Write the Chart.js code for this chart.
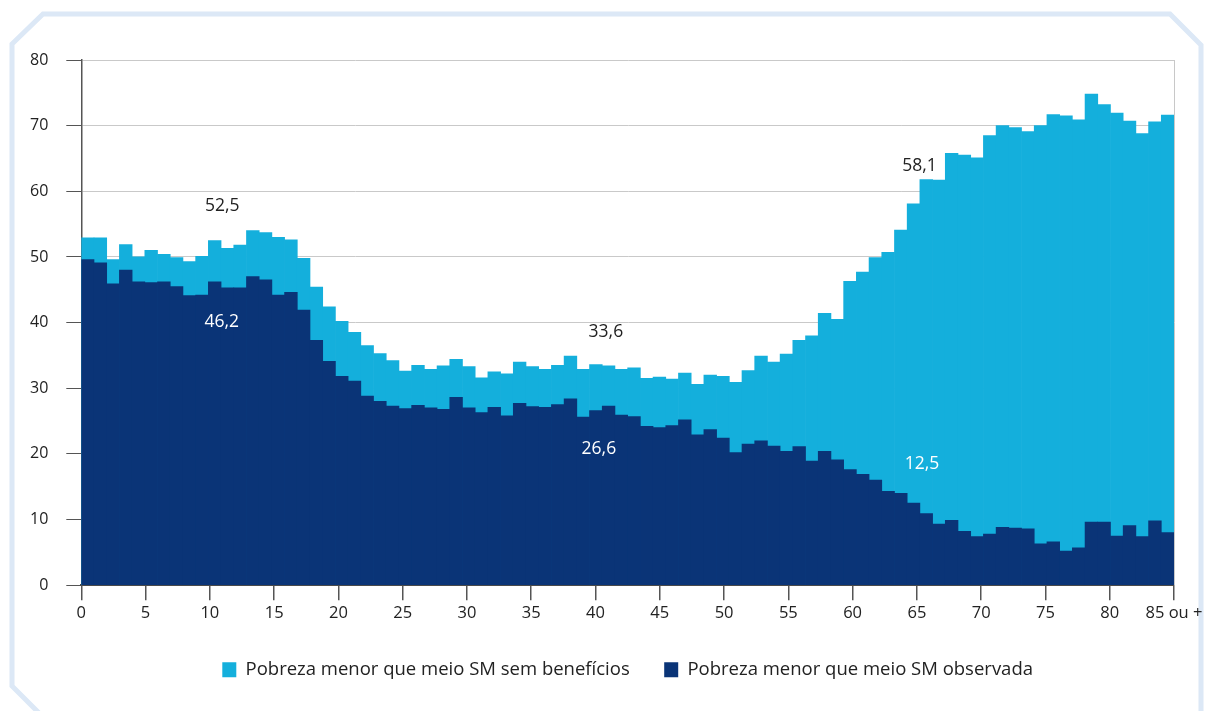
<!DOCTYPE html>
<html>
<head>
<meta charset="utf-8">
<script src="https://cdn.jsdelivr.net/npm/chart.js@4/dist/chart.umd.min.js"></script>
<style>
  html, body { margin: 0; padding: 0; background: #ffffff; }
  #wrap { position: relative; width: 1211px; height: 711px; }
</style>
</head>
<body>
<div id="wrap"><canvas id="c" width="1211" height="711"></canvas></div>
<script>
// ---- data ----
const ages = ['0','1','2','3','4','5','6','7','8','9','10','11','12','13','14','15','16','17','18','19','20','21','22','23','24','25','26','27','28','29','30','31','32','33','34','35','36','37','38','39','40','41','42','43','44','45','46','47','48','49','50','51','52','53','54','55','56','57','58','59','60','61','62','63','64','65','66','67','68','69','70','71','72','73','74','75','76','77','78','79','80','81','82','83','84','85 ou +'];

const semBeneficios = [
  52.9, 52.9, 49.6, 51.9, 50.0, 51.0, 50.4, 49.9, 49.3, 50.1,
  52.5, 51.3, 51.8, 54.0, 53.7, 53.0, 52.6, 49.8, 45.4, 42.4,
  40.2, 38.5, 36.5, 35.3, 34.2, 32.6, 33.5, 32.9, 33.4, 34.4,
  33.3, 31.6, 32.5, 32.2, 34.0, 33.3, 32.9, 33.5, 34.9, 32.9,
  33.6, 33.4, 32.9, 33.1, 31.5, 31.7, 31.4, 32.3, 30.6, 32.0,
  31.8, 30.9, 32.7, 34.9, 34.0, 35.2, 37.3, 38.0, 41.4, 40.5,
  46.3, 47.7, 49.9, 50.7, 54.1, 58.1, 61.8, 61.7, 65.8, 65.5,
  65.1, 68.5, 70.0, 69.7, 69.1, 70.0, 71.7, 71.5, 70.9, 74.8,
  73.2, 71.9, 70.7, 68.8, 70.6, 71.6
];

const observada = [
  49.6, 49.1, 45.9, 48.0, 46.2, 46.1, 46.2, 45.5, 44.1, 44.2,
  46.2, 45.3, 45.3, 47.0, 46.5, 44.2, 44.6, 41.9, 37.3, 34.1,
  31.8, 31.1, 28.8, 28.0, 27.3, 26.9, 27.4, 27.0, 26.8, 28.6,
  27.0, 26.3, 27.1, 25.8, 27.7, 27.2, 27.1, 27.5, 28.4, 25.6,
  26.6, 27.3, 25.9, 25.7, 24.2, 24.0, 24.3, 25.2, 22.9, 23.7,
  22.4, 20.2, 21.5, 22.0, 21.2, 20.4, 21.1, 18.9, 20.4, 19.1,
  17.6, 16.9, 16.0, 14.3, 14.0, 12.5, 10.9, 9.3, 9.9, 8.2,
  7.4, 7.8, 8.8, 8.7, 8.6, 6.3, 6.6, 5.2, 5.7, 9.6,
  9.6, 7.5, 9.1, 7.4, 9.8, 8.0
];

const xTickValues = [0, 5, 10, 15, 20, 25, 30, 35, 40, 45, 50, 55, 60, 65, 70, 75, 80, 85];
const xTickLabels = ['0','5','10','15','20','25','30','35','40','45','50','55','60','65','70','75','80','85 ou +'];
const yTicks = [0, 10, 20, 30, 40, 50, 60, 70, 80];

const seriesNames = ['Pobreza menor que meio SM sem benefícios', 'Pobreza menor que meio SM observada'];
const annotatedAges = [10, 40, 65];

// ---- styling ----
const LIGHT = '#14afdc';
const DARK = '#0a3477';
const FONT = "'Open Sans', 'Noto Sans', sans-serif";

// label placement (pixel offsets relative to bar centre / bar top)
const labelStyle = {
  '0-10': { dx: 7.5, dy: -30, color: '#222222' },
  '1-10': { dx: 7, dy: 45, color: '#ffffff' },
  '0-40': { dx: 10, dy: -28, color: '#222222' },
  '1-40': { dx: 3, dy: 43, color: '#ffffff' },
  '0-65': { dx: 6, dy: -33, color: '#222222' },
  '1-65': { dx: 8.5, dy: -34, color: '#ffffff' }
};

const framePlugin = {
  id: 'frame',
  beforeDraw(chart) {
    const ctx = chart.ctx;
    ctx.save();
    ctx.strokeStyle = '#dce8f6';
    ctx.lineWidth = 5;
    ctx.lineJoin = 'miter';
    ctx.beginPath();
    ctx.moveTo(40, 714);
    ctx.lineTo(12, 686);
    ctx.lineTo(12, 44);
    ctx.lineTo(43, 14);
    ctx.lineTo(1170, 14);
    ctx.lineTo(1201, 45);
    ctx.lineTo(1201, 714);
    ctx.stroke();
    ctx.restore();
  }
};

const borderPlugin = {
  id: 'rightBorder',
  afterDatasetsDraw(chart) {
    const {ctx, chartArea} = chart;
    ctx.save();
    ctx.strokeStyle = '#c8c8c8';
    ctx.lineWidth = 1;
    ctx.beginPath();
    ctx.moveTo(Math.round(chartArea.right) + 0.5, chartArea.top);
    ctx.lineTo(Math.round(chartArea.right) + 0.5, chartArea.bottom);
    ctx.stroke();
    ctx.restore();
  }
};

const valueLabelPlugin = {
  id: 'valueLabels',
  afterDatasetsDraw(chart) {
    const ctx = chart.ctx;
    ctx.save();
    ctx.font = "17.5px " + FONT;
    ctx.textAlign = 'center';
    ctx.textBaseline = 'alphabetic';
    [0, 1].forEach(ds => {
      const meta = chart.getDatasetMeta(ds);
      annotatedAges.forEach(idx => {
        const st = labelStyle[ds + '-' + idx];
        const bar = meta.data[idx];
        const v = chart.data.datasets[ds].data[idx];
        ctx.fillStyle = st.color;
        ctx.fillText(v.toFixed(1).replace('.', ','), bar.x + st.dx, bar.y + st.dy);
      });
    });
    ctx.restore();
  }
};

new Chart(document.getElementById('c'), {
  type: 'bar',
  data: {
    labels: ages,
    datasets: [
      {
        label: seriesNames[0],
        data: semBeneficios,
        backgroundColor: LIGHT,
        borderWidth: 0,
        order: 2,
        xAxisID: 'x',
        yAxisID: 'y',
        categoryPercentage: 1.0,
        barPercentage: 1.0
      },
      {
        label: seriesNames[1],
        data: observada,
        backgroundColor: DARK,
        borderWidth: 0,
        order: 1,
        xAxisID: 'x',
        yAxisID: 'y',
        categoryPercentage: 1.0,
        barPercentage: 1.0
      }
    ]
  },
  options: {
    responsive: false,
    animation: false,
    devicePixelRatio: 1,
    layout: { padding: { left: 12, right: 37, top: 60, bottom: 22 } },
    plugins: {
      legend: {
        position: 'bottom',
        fullSize: false,
        labels: {
          boxWidth: 14,
          boxHeight: 15,
          padding: 34.5,
          color: '#222222',
          font: { family: FONT, size: 18.5 },
          sort: (a, b) => a.datasetIndex - b.datasetIndex
        }
      },
      tooltip: { enabled: false }
    },
    scales: {
      x: {
        type: 'category',
        display: false,
        stacked: true,
        offset: true
      },
      xt: {
        type: 'linear',
        axis: 'x',
        position: 'bottom',
        offset: false,
        min: 0,
        max: 85,
        afterBuildTicks: (scale) => { scale.ticks = xTickValues.map(v => ({ value: v })); },
        ticks: {
          autoSkip: false,
          maxRotation: 0,
          padding: 3,
          color: '#222222',
          font: { family: FONT, size: 16.5 },
          callback: (v) => xTickLabels[xTickValues.indexOf(v)]
        },
        grid: {
          offset: false,
          drawOnChartArea: false,
          drawTicks: true,
          tickLength: 15,
          tickColor: '#555555',
          lineWidth: 1.5
        },
        border: { display: true, color: '#4a4a4a', width: 2 }
      },
      y: {
        type: 'linear',
        stacked: false,
        min: 0,
        max: 80,
        afterBuildTicks: (scale) => { scale.ticks = yTicks.map(v => ({ value: v })); },
        ticks: {
          padding: 18,
          color: '#222222',
          font: { family: FONT, size: 16 }
        },
        grid: {
          color: '#c9c9c9',
          lineWidth: 1,
          tickLength: 15,
          tickColor: '#555555'
        },
        border: { display: true, color: '#555555', width: 1.5 }
      }
    }
  },
  plugins: [framePlugin, borderPlugin, valueLabelPlugin]
});
</script>
</body>
</html>
